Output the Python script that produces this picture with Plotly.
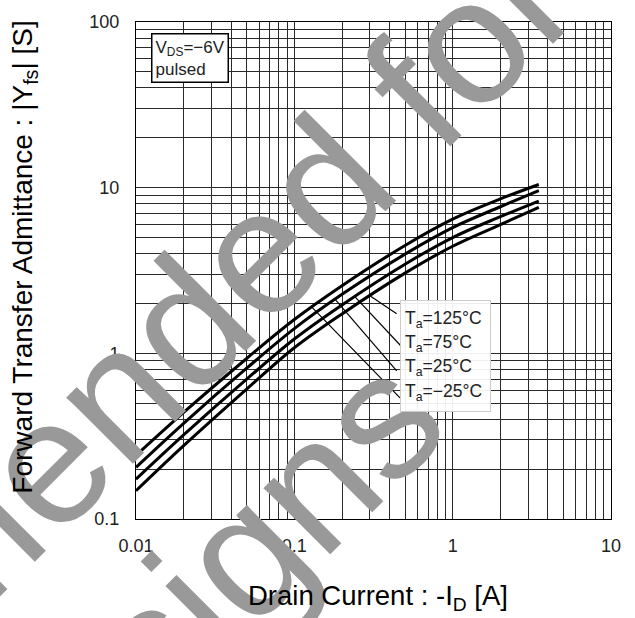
import numpy as np
import plotly.graph_objects as go

# ---- data ----
drain_current = [0.01, 0.02, 0.05, 0.1, 0.2, 0.5, 1.0, 2.0, 3.5]
yfs_m25 = [0.242, 0.440, 0.931, 1.60, 2.56, 4.48, 6.46, 8.55, 10.45]
yfs_25 = [0.205, 0.378, 0.813, 1.41, 2.27, 3.97, 5.74, 7.67, 9.6]
yfs_75 = [0.174, 0.322, 0.698, 1.22, 1.96, 3.45, 5.00, 6.68, 8.3]
yfs_125 = [0.148, 0.277, 0.608, 1.08, 1.73, 3.05, 4.43, 5.98, 7.6]

series_names = ["T<sub>a</sub>=125°C", "T<sub>a</sub>=75°C", "T<sub>a</sub>=25°C", "T<sub>a</sub>=−25°C"]
series_values = [yfs_125, yfs_75, yfs_25, yfs_m25]

x_tickvals = [0.01, 0.1, 1, 10]
x_ticktext = ["0.01", "0.1", "1", "10"]
y_tickvals = [0.1, 1, 10, 100]
y_ticktext = ["0.1", "1", "10", "100"]

# leader line anchor x (on curve) for each label
leader_x = [0.30, 0.241, 0.181, 0.129]

watermark_lines = ["Not Recommended for", "New Designs"]

FONT = "Liberation Sans, Arial, sans-serif"

# geometry helpers (plot area in px)
L, R, T, B = 136, 611, 17, 519
W, H = 635, 618
def px_to_paper_x(px):
    return (px - L) / (R - L)
def px_to_paper_y(py):
    return (B - py) / (B - T)
def px_to_logx(px):
    return -2 + 3 * (px - L) / (R - L)
def px_to_logy(py):
    return 2 - 3 * (py - T) / (B - T)

fig = go.Figure()
for name, vals in zip(series_names, series_values):
    fig.add_trace(go.Scatter(
        x=drain_current, y=vals, mode="lines", name=name,
        line=dict(color="black", width=3, shape="spline", smoothing=1.0),
        showlegend=False, hoverinfo="skip"))

# leader lines (drawn as thin traces in data space)
label_centers = [317, 342, 366, 391]
tail_px = [(396.7, 311.7), (401.7, 345.0), (396.7, 369.3), (400.0, 396.7)]
lx = np.log10(drain_current)
for vals, (tx, ty), hx in zip(series_values, tail_px, leader_x):
    hv = 10 ** float(np.interp(np.log10(hx), lx, np.log10(vals)))
    fig.add_trace(go.Scatter(
        x=[10 ** px_to_logx(tx), hx], y=[10 ** px_to_logy(ty), hv],
        mode="lines", line=dict(color="black", width=1.2),
        showlegend=False, hoverinfo="skip"))

annotations = []

# watermark (two lines)
wm_centers = [(-91, 601), (40, 760)]
for txt, (cx, cy) in zip(watermark_lines, wm_centers):
    annotations.append(dict(
        text=txt, xref="paper", yref="paper",
        x=px_to_paper_x(cx), y=px_to_paper_y(cy), xanchor="center", yanchor="middle",
        showarrow=False, textangle=-45,
        font=dict(family=FONT, size=178, color="#999999")))

# VDS box
annotations.append(dict(
    text="V<sub>DS</sub>=−6V<br>pulsed", xref="paper", yref="paper",
    x=px_to_paper_x(151), y=px_to_paper_y(28), xanchor="left", yanchor="top",
    showarrow=False, align="left", borderpad=3,
    bordercolor="black", borderwidth=1.5, bgcolor="white",
    font=dict(family=FONT, size=17, color="#222")))

# legend box
annotations.append(dict(
    text=" ", xref="paper", yref="paper",
    x=px_to_paper_x(400), y=px_to_paper_y(298), xanchor="left", yanchor="top",
    showarrow=False, width=89, height=110, borderpad=0,
    bordercolor="#cccccc", borderwidth=1, bgcolor="rgba(255,255,255,0.92)"))

for name, yc in zip(series_names, label_centers):
    annotations.append(dict(
        text=name, xref="paper", yref="paper",
        x=px_to_paper_x(403), y=px_to_paper_y(yc), xanchor="left", yanchor="middle",
        showarrow=False, font=dict(family=FONT, size=17.5, color="#222")))

# axis titles
annotations.append(dict(
    text="Drain Current : -I<sub>D</sub> [A]", xref="paper", yref="paper",
    x=px_to_paper_x(378), y=px_to_paper_y(598), xanchor="center", yanchor="middle",
    showarrow=False, font=dict(family=FONT, size=27.5, color="black")))
annotations.append(dict(
    text="Forward Transfer Admittance : |Y<sub>fs</sub>| [S]", xref="paper", yref="paper",
    x=px_to_paper_x(25), y=px_to_paper_y(255), xanchor="center", yanchor="middle",
    showarrow=False, textangle=-90, font=dict(family=FONT, size=28, color="black")))

grid_col = "#2a2a2a"
axis_common = dict(
    type="log", showline=True, mirror=True, linecolor="black", linewidth=1,
    showgrid=True, gridcolor=grid_col, gridwidth=1, zeroline=False,
    ticks="", tickmode="array",
    tickfont=dict(family=FONT, size=18, color="#222"),
    minor=dict(showgrid=True, gridcolor=grid_col, gridwidth=1, dtick="D1"),
)

fig.update_layout(
    width=W, height=H,
    margin=dict(l=L, r=W - R, t=T, b=H - B),
    paper_bgcolor="white", plot_bgcolor="white",
    xaxis=dict(range=[-2, 1], tickvals=x_tickvals, ticktext=x_ticktext,
               ticklabelstandoff=10, **axis_common),
    yaxis=dict(range=[-1, 2], tickvals=y_tickvals, ticktext=y_ticktext,
               ticklabelstandoff=12, **axis_common),
    annotations=annotations,
)

fig.write_html("out.html", config={"displayModeBar": False},
               post_script="document.body.style.margin='0';document.body.style.overflow='hidden';")
